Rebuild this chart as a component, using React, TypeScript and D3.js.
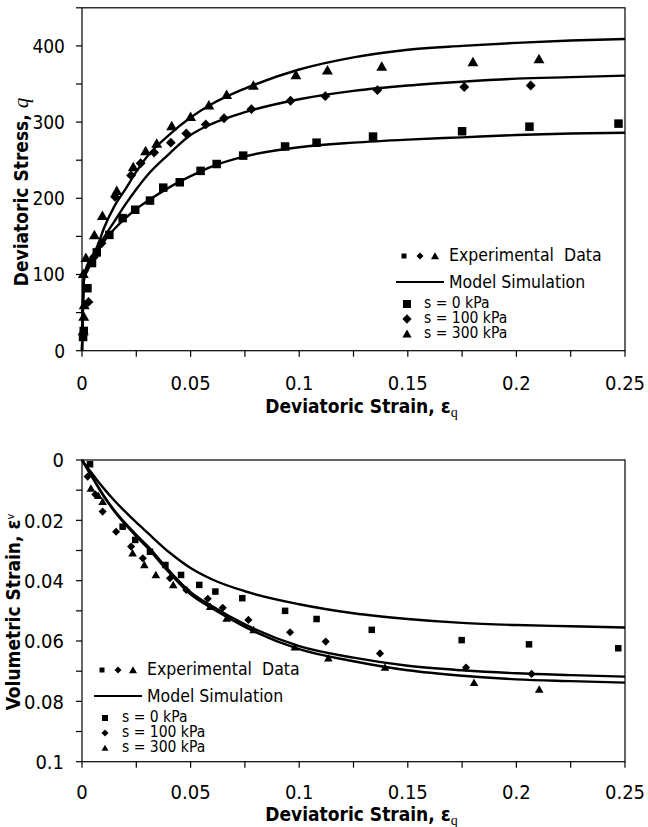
import React from "react";
import * as d3 from "d3";

// ---------- data ----------
const seriesNames = ["s = 0 kPa", "s = 100 kPa", "s = 300 kPa"];

// top chart: experimental q vs eps_q
const topStrainS0 = [0.0005, 0.0008, 0.0025, 0.0046, 0.0068, 0.0126, 0.0187, 0.0245, 0.0313, 0.0374, 0.045, 0.0546, 0.062, 0.0742, 0.0935, 0.108, 0.134, 0.175, 0.206, 0.247];
const topQS0 = [18, 26, 82, 115, 129, 152, 174, 185, 197, 214, 221, 236, 245, 256, 268, 273, 281, 288, 294, 298];
const topStrainS100 = [0.0008, 0.003, 0.0055, 0.009, 0.0152, 0.0226, 0.027, 0.0332, 0.0409, 0.048, 0.057, 0.0654, 0.078, 0.096, 0.112, 0.136, 0.176, 0.2066];
const topQS100 = [22, 64, 123, 141, 202, 230, 246, 260, 273, 285, 297, 305, 317, 328, 334, 342, 346, 348];
const topStrainS300 = [0.0005, 0.0008, 0.001, 0.0006, 0.0018, 0.0057, 0.0094, 0.016, 0.0236, 0.0293, 0.0344, 0.0413, 0.05, 0.0584, 0.0666, 0.0789, 0.0985, 0.113, 0.138, 0.18, 0.2104];
const topQS300 = [26, 45, 60, 101, 122, 152, 177, 210, 241, 262, 272, 295, 307, 322, 336, 348, 362, 368, 373, 379, 383];

// model simulation grid
const modelStrain = [0, 0.0005, 0.001, 0.0025, 0.005, 0.0075, 0.01, 0.015, 0.02, 0.025, 0.03, 0.04, 0.05, 0.06, 0.075, 0.1, 0.125, 0.15, 0.175, 0.2, 0.225, 0.25];
const modelQS0 = [0, 66, 95, 105, 120, 132, 143, 160, 174, 186, 196, 214, 229, 242, 255, 267, 273, 277, 280, 283, 285, 286];
const modelQS100 = [0, 68, 96, 108, 122, 135, 148, 170, 192, 212, 230, 258, 283, 298, 313, 330, 341, 348, 353, 357, 359, 361];
const modelQS300 = [0, 70, 98, 113, 125, 140, 160, 190, 212, 235, 255, 283, 306, 324, 344, 369, 385, 395, 400, 404, 407, 409];

// bottom chart: experimental eps_v vs eps_q
const botStrainS0 = [0.0037, 0.0187, 0.0245, 0.0313, 0.0384, 0.0456, 0.054, 0.0614, 0.0738, 0.0935, 0.108, 0.1334, 0.1748, 0.2058, 0.2469];
const botVS0 = [0.0014, 0.0221, 0.0265, 0.0304, 0.0348, 0.0381, 0.0414, 0.0436, 0.0458, 0.05, 0.0527, 0.0563, 0.0597, 0.0611, 0.0624];
const botStrainS100 = [0.0026, 0.0061, 0.0095, 0.0157, 0.0226, 0.028, 0.0405, 0.048, 0.0579, 0.0648, 0.0766, 0.0958, 0.1122, 0.1372, 0.1768, 0.207];
const botVS100 = [0.0055, 0.0114, 0.0171, 0.0238, 0.0287, 0.0326, 0.0392, 0.0431, 0.046, 0.049, 0.053, 0.0571, 0.0602, 0.0641, 0.0688, 0.0709];
const botStrainS300 = [0.0041, 0.0075, 0.0095, 0.0233, 0.0287, 0.034, 0.042, 0.059, 0.0666, 0.079, 0.098, 0.1134, 0.1395, 0.1805, 0.2105];
const botVS300 = [0.0094, 0.0118, 0.0138, 0.0309, 0.0348, 0.0381, 0.0414, 0.0486, 0.0525, 0.0563, 0.062, 0.0657, 0.0687, 0.0738, 0.076];

const modelVS0 = [0, 0.0005, 0.001, 0.0025, 0.0048, 0.0072, 0.0094, 0.0135, 0.0172, 0.0207, 0.024, 0.0305, 0.0358, 0.0396, 0.0435, 0.0478, 0.0508, 0.0527, 0.054, 0.0547, 0.0551, 0.0555];
const modelVS100 = [0, 0.0006, 0.0012, 0.003, 0.006, 0.009, 0.0118, 0.0168, 0.021, 0.0248, 0.0284, 0.0366, 0.0438, 0.0485, 0.0545, 0.0617, 0.0655, 0.0682, 0.0697, 0.0707, 0.0713, 0.0718];
const modelVS300 = [0, 0.0006, 0.0012, 0.003, 0.006, 0.0091, 0.012, 0.0171, 0.0214, 0.0253, 0.029, 0.0372, 0.0445, 0.0492, 0.0553, 0.0627, 0.0667, 0.0697, 0.0715, 0.0727, 0.0733, 0.0738];

// ticks
const xTickLabels = [0, 0.05, 0.1, 0.15, 0.2, 0.25];
const xTicksAll = [0, 0.025, 0.05, 0.075, 0.1, 0.125, 0.15, 0.175, 0.2, 0.225, 0.25];
const topYTickLabels = [0, 100, 200, 300, 400];
const topYTicksAll = [0, 50, 100, 150, 200, 250, 300, 350, 400, 450];
const botYTickLabels = ["0", "0.02", "0.04", "0.06", "0.08", "0.1"];
const botYTickValues = [0, 0.02, 0.04, 0.06, 0.08, 0.1];
const botYTicksAll = [0, 0.01, 0.02, 0.03, 0.04, 0.05, 0.06, 0.07, 0.08, 0.09, 0.1];

// ---------- layout ----------
const W = 648;
const H = 827;
const FONT = "'DejaVu Sans Condensed', 'DejaVu Sans', sans-serif";
const X0 = 82;
const X1 = 625;

type Shape = "square" | "diamond" | "triangle";
const shapes: Shape[] = ["square", "diamond", "triangle"];

function Marker({ x, y, shape, size }: { x: number; y: number; shape: Shape; size: number }) {
  if (shape === "square") {
    return <rect x={x - size / 2} y={y - size / 2} width={size} height={size} fill="#000" />;
  }
  if (shape === "diamond") {
    const r = size * 0.58;
    return <path d={`M${x},${y - r}L${x + r},${y}L${x},${y + r}L${x - r},${y}Z`} fill="#000" />;
  }
  const w = size * 1.15;
  const h = size * 1.0;
  return <path d={`M${x},${y - h * 0.55}L${x + w / 2},${y + h * 0.45}L${x - w / 2},${y + h * 0.45}Z`} fill="#000" />;
}

function Legend({ x, y, sizes }: { x: number; y: number; sizes: number }) {
  // x: left of markers; y: baseline of first row
  return (
    <g fontFamily={FONT} fill="#000">
      <Marker x={x + 7} y={y - 5} shape="square" size={5} />
      <Marker x={x + 23} y={y - 5} shape="diamond" size={6} />
      <Marker x={x + 38} y={y - 5} shape="triangle" size={7} />
      <text x={x + 52} y={y} fontSize={17.5}>Experimental{"\u00a0\u00a0"}Data</text>
      <line x1={x - 1} x2={x + 47} y1={y + 21} y2={y + 21} stroke="#000" strokeWidth={2} />
      <text x={x + 52} y={y + 27} fontSize={17.5}>Model Simulation</text>
      {seriesNames.map((n, i) => (
        <g key={n}>
          <Marker x={x + 10} y={y + 43 + i * 15} shape={shapes[i]} size={sizes} />
          <text x={x + 27} y={y + 47 + i * 15} fontSize={15.5}>{n}</text>
        </g>
      ))}
    </g>
  );
}

function XAxis({ y0, labelY, titleY, xs }: { y0: number; labelY: number; titleY: number; xs: d3.ScaleLinear<number, number> }) {
  return (
    <g fontFamily={FONT}>
      {xTicksAll.map((t) => (
        <line key={t} x1={xs(t)} x2={xs(t)} y1={y0} y2={y0 + 6} stroke="#000" strokeWidth={1.2} />
      ))}
      {xTickLabels.map((t) => (
        <text key={t} x={xs(t)} y={labelY} fontSize={20} textAnchor="middle">{String(t)}</text>
      ))}
      <text x={(X0 + X1) / 2 + 8} y={titleY} fontSize={19} fontWeight="bold" textAnchor="middle">
        Deviatoric Strain,{"\u00a0"}
        <tspan fontSize={20}>ε</tspan>
        <tspan fontSize={14} dy={4} fontFamily="'Liberation Serif', serif" fontWeight="normal">q</tspan>
      </text>
    </g>
  );
}

export default function App() {
  const xs = d3.scaleLinear().domain([0, 0.25]).range([X0, X1]);
  const yTop = d3.scaleLinear().domain([0, 450]).range([350.7, 7.8]);
  const yBot = d3.scaleLinear().domain([0, 0.1]).range([460, 761.7]);

  const lineTop = d3
    .line<[number, number]>()
    .x((d) => xs(d[0]))
    .y((d) => yTop(d[1]))
    .curve(d3.curveMonotoneX);
  const lineBot = d3
    .line<[number, number]>()
    .x((d) => xs(d[0]))
    .y((d) => yBot(d[1]))
    .curve(d3.curveMonotoneX);

  const topModels = [modelQS0, modelQS100, modelQS300];
  const botModels = [modelVS0, modelVS100, modelVS300];
  const topExp = [
    [topStrainS0, topQS0],
    [topStrainS100, topQS100],
    [topStrainS300, topQS300],
  ];
  const botExp = [
    [botStrainS0, botVS0],
    [botStrainS100, botVS100],
    [botStrainS300, botVS300],
  ];
  const topSizes = [8.5, 8.5, 9.5];
  const botSizes = [6.5, 7, 7.5];

  return (
    <svg width={W} height={H} style={{ position: "absolute", left: 0, top: 0, background: "#fff" }}>
      <rect width={W} height={H} fill="#fff" />

      {/* ================= TOP CHART ================= */}
      <g>
        <rect x={X0} y={yTop(450)} width={X1 - X0} height={yTop(0) - yTop(450)} fill="none" stroke="#000" strokeWidth={1.2} />
        {topYTicksAll.map((t) => (
          <line key={t} x1={X0 - 6} x2={X0} y1={yTop(t)} y2={yTop(t)} stroke="#000" strokeWidth={1.2} />
        ))}
        <g fontFamily={FONT}>
          {topYTickLabels.map((t) => (
            <text key={t} x={65} y={yTop(t)} dy="0.36em" fontSize={19} textAnchor="end">{String(t)}</text>
          ))}
          <text transform="translate(28,192) rotate(-90)" fontSize={19} fontWeight="bold" textAnchor="middle">
            Deviatoric Stress,{"\u00a0"}
            <tspan fontStyle="italic" fontWeight="normal" fontFamily="'Liberation Serif', serif" fontSize={21}>q</tspan>
          </text>
        </g>
        <XAxis y0={yTop(0)} labelY={390} titleY={413} xs={xs} />

        {topModels.map((m, i) => (
          <path key={i} d={lineTop(modelStrain.map((s, j) => [s, m[j]] as [number, number])) || ""} fill="none" stroke="#000" strokeWidth={2.4} />
        ))}
        {topExp.map(([sx, sy], i) =>
          sx.map((s, j) => <Marker key={`${i}-${j}`} x={xs(s)} y={yTop(sy[j])} shape={shapes[i]} size={topSizes[i]} />)
        )}
        <Legend x={397} y={261} sizes={8} />
      </g>

      {/* ================= BOTTOM CHART ================= */}
      <g>
        <rect x={X0} y={yBot(0)} width={X1 - X0} height={yBot(0.1) - yBot(0)} fill="none" stroke="#000" strokeWidth={1.2} />
        {botYTicksAll.map((t) => (
          <line key={t} x1={X0 - 6} x2={X0} y1={yBot(t)} y2={yBot(t)} stroke="#000" strokeWidth={1.2} />
        ))}
        <g fontFamily={FONT}>
          {botYTickValues.map((t, i) => (
            <text key={t} x={64} y={yBot(t)} dy="0.36em" fontSize={20} textAnchor="end">{botYTickLabels[i]}</text>
          ))}
          <text transform="translate(20,612) rotate(-90)" fontSize={19} fontWeight="bold" textAnchor="middle">
            Volumetric Strain,{"\u00a0"}
            <tspan fontSize={20}>ε</tspan>
            <tspan fontSize={11} fontWeight="normal" dy={-6}>v</tspan>
          </text>
        </g>
        <XAxis y0={yBot(0.1)} labelY={799} titleY={821} xs={xs} />

        {botModels.map((m, i) => (
          <path key={i} d={lineBot(modelStrain.map((s, j) => [s, m[j]] as [number, number])) || ""} fill="none" stroke="#000" strokeWidth={2.4} />
        ))}
        {botExp.map(([sx, sy], i) =>
          sx.map((s, j) => <Marker key={`${i}-${j}`} x={xs(s)} y={yBot(sy[j])} shape={shapes[i]} size={botSizes[i]} />)
        )}
        <Legend x={95} y={675} sizes={6} />
      </g>
    </svg>
  );
}
